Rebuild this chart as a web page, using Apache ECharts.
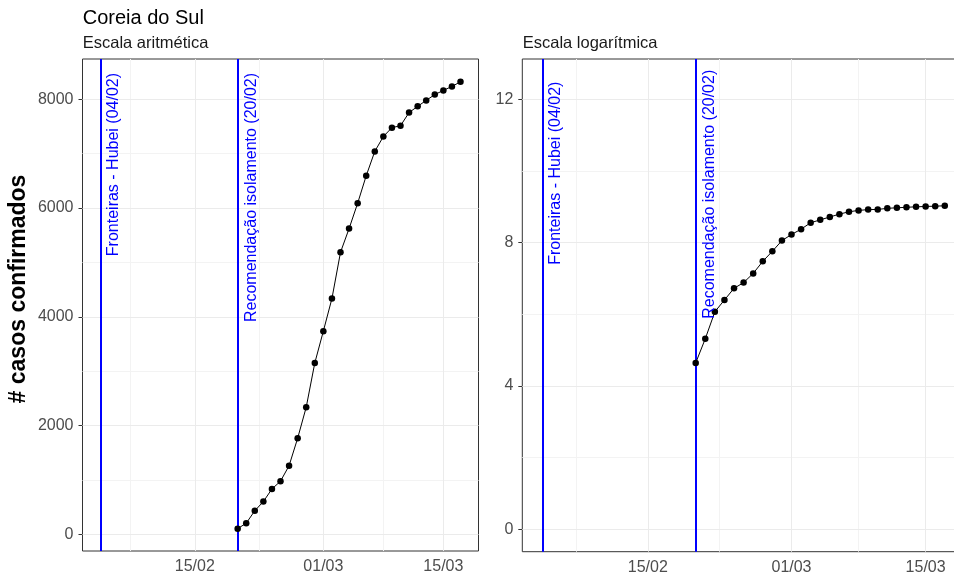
<!DOCTYPE html>
<html><head><meta charset="utf-8">
<script src="https://cdn.jsdelivr.net/npm/echarts@6/dist/echarts.min.js"></script>
<style>html,body{margin:0;padding:0;background:#fff;overflow:hidden}#c{width:975px;height:578px}</style>
</head><body><div id="c"></div>
<script>
// ---- data ----
const dates = ['20/02','21/02','22/02','23/02','24/02','25/02','26/02','27/02','28/02','29/02',
  '01/03','02/03','03/03','04/03','05/03','06/03','07/03','08/03','09/03','10/03',
  '11/03','12/03','13/03','14/03','15/03','16/03','17/03'];
const cases = [104,204,433,602,833,977,1261,1766,2337,3150,
  3736,4335,5186,5621,6088,6593,7041,7314,7478,7513,
  7755,7869,7979,8086,8162,8236,8320];
const xTickLabels = ['15/02','01/03','15/03'];
const eventDates = ['04/02','20/02'];
const eventLabels = ['Fronteiras - Hubei (04/02)','Recomendação isolamento (20/02)'];
const yTicksArith = [0,2000,4000,6000,8000];
const yMinorArith = [1000,3000,5000,7000];
const yTicksLog = [0,4,8,12];
const yMinorLog = [2,6,10];
const titleText = 'Coreia do Sul';
const panelTitles = ['Escala aritmética','Escala logarítmica'];
const yTitle = '# casos confirmados';

// ---- helpers ----
const FONT = '"Liberation Sans", Arial, Helvetica, sans-serif';
const base = Date.UTC(2020,1,1);
function dayOf(s){ const [d,m] = s.split('/').map(Number); return (Date.UTC(2020,m-1,d)-base)/86400000; }
function labelOf(v){ const t = new Date(base + v*86400000); const d=t.getUTCDate(), m=t.getUTCMonth()+1; return (d<10?'0':'')+d+'/'+(m<10?'0':'')+m; }
const xDays = dates.map(dayOf);
const xTicks = xTickLabels.map(dayOf);
const evDays = eventDates.map(dayOf);
const xMinor = [xTicks[0]-(xTicks[1]-xTicks[0])/2];
for (let i=0;i<xTicks.length-1;i++) xMinor.push((xTicks[i]+xTicks[i+1])/2);
const allX = xDays.concat(evDays);
const xLo = Math.min(...allX), xHi = Math.max(...allX);
const xPad = (xHi-xLo)*0.05;
const logCases = cases.map(v=>Math.log(v));

const GRID_MAJOR = {color:'#ebebeb', width:1, type:'solid'};
const GRID_MINOR = {color:'#f3f3f3', width:1, type:'solid'};
function gridLines(yMaj, yMin){
  const d = [];
  xMinor.forEach(v=>d.push({xAxis:v, lineStyle:GRID_MINOR}));
  yMin.forEach(v=>d.push({yAxis:v, lineStyle:GRID_MINOR}));
  xTicks.forEach(v=>d.push({xAxis:v, lineStyle:GRID_MAJOR}));
  yMaj.forEach(v=>d.push({yAxis:v, lineStyle:GRID_MAJOR}));
  evDays.forEach(v=>d.push({xAxis:v, lineStyle:{color:'#0000ff', width:2, type:'solid'}}));
  return d;
}
function xAxisCfg(gi){
  return {type:'value', gridIndex:gi, min:xLo-xPad, max:xHi+xPad,
    axisLine:{show:false}, splitLine:{show:false},
    axisTick:{show:true, length:4, customValues:xTicks, lineStyle:{color:'#333'}},
    axisLabel:{customValues:xTicks, formatter:v=>labelOf(v), color:'#4d4d4d', fontSize:16, fontFamily:FONT, margin:8}};
}
function yAxisCfg(gi, ticks, mn, mx){
  return {type:'value', gridIndex:gi, min:mn, max:mx,
    axisLine:{show:false}, splitLine:{show:false},
    axisTick:{show:true, length:4, customValues:ticks, lineStyle:{color:'#333'}},
    axisLabel:{customValues:ticks, formatter:v=>String(v), color:'#4d4d4d', fontSize:16, fontFamily:FONT, margin:9}};
}
function seriesPair(gi, vals, yMaj, yMin){
  const data = xDays.map((x,i)=>[x, vals[i]]);
  return [
    {type:'line', xAxisIndex:gi, yAxisIndex:gi, data:data, z:1, showSymbol:false,
      lineStyle:{opacity:0}, silent:true,
      markLine:{z:1, silent:true, symbol:['none','none'], label:{show:false}, animation:false, data:gridLines(yMaj,yMin)}},
    {type:'line', xAxisIndex:gi, yAxisIndex:gi, data:data, z:6, symbol:'circle', symbolSize:6.5,
      itemStyle:{color:'#000'}, lineStyle:{color:'#000', width:1}}
  ];
}

const chart = echarts.init(document.getElementById('c'), null, {renderer:'canvas'});
chart.setOption({
  animation:false,
  backgroundColor:'#fff',
  grid:[
    {left:82.5, top:59, width:396, height:492, show:true, borderColor:'#333', borderWidth:1, backgroundColor:'transparent'},
    {left:522.3, top:59, width:442.6, height:492.7, show:true, borderColor:'#333', borderWidth:1, backgroundColor:'transparent'}
  ],
  xAxis:[xAxisCfg(0), xAxisCfg(1)],
  yAxis:[yAxisCfg(0, yTicksArith, -307, 8740), yAxisCfg(1, yTicksLog, -0.62, 13.12)],
  series:[].concat(seriesPair(0, cases, yTicksArith, yMinorArith), seriesPair(1, logCases, yTicksLog, yMinorLog))
});

// ---- text overlays (positions from the library's scales) ----
const labelEnds = [[8483, 8483],[12.49, 12.82]];
const g = [];
[0,1].forEach(gi=>{
  evDays.forEach((d,i)=>{
    const p = chart.convertToPixel({gridIndex:gi}, [d, labelEnds[gi][i]]);
    g.push({type:'text', x:p[0]+13.5, y:p[1], rotation:Math.PI/2, z:10,
      style:{text:eventLabels[i], fill:'#0000ff', font:'16px '+FONT, align:'right', verticalAlign:'middle'}});
  });
});
g.push({type:'text', x:82.7, y:18, z:10, style:{text:titleText, fill:'#000', font:'20px '+FONT, align:'left', verticalAlign:'middle'}});
g.push({type:'text', x:82.7, y:43.5, z:10, style:{text:panelTitles[0], fill:'#1a1a1a', font:'16.5px '+FONT, align:'left', verticalAlign:'middle'}});
g.push({type:'text', x:522.7, y:43.5, z:10, style:{text:panelTitles[1], fill:'#1a1a1a', font:'16.5px '+FONT, align:'left', verticalAlign:'middle'}});
g.push({type:'text', x:18.5, y:289, rotation:Math.PI/2, z:10, style:{text:yTitle, fill:'#000', font:'bold 23px '+FONT, align:'center', verticalAlign:'middle'}});
chart.setOption({graphic:g});
</script>
</body></html>
